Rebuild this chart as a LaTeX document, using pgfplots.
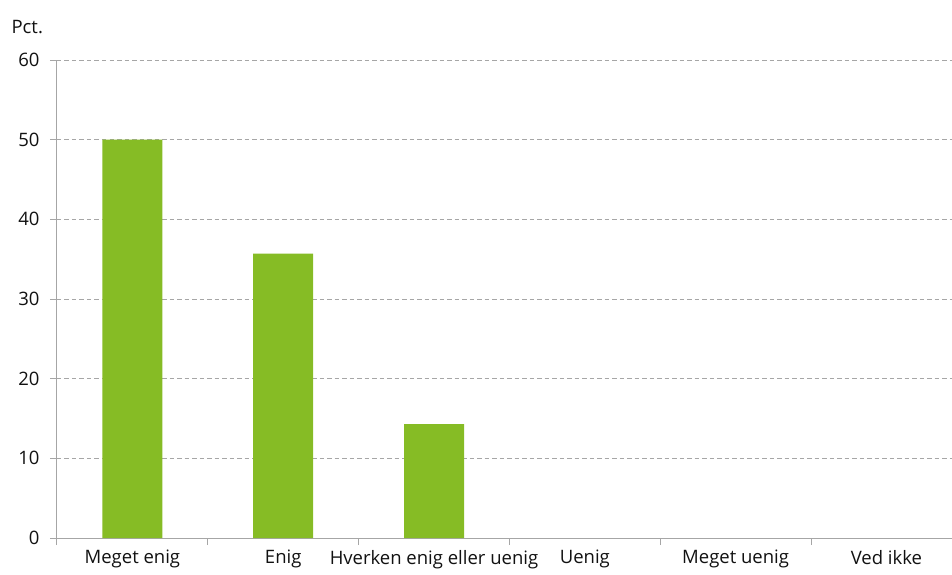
\documentclass[border=0pt]{standalone}
\usepackage{fontspec}
\setmainfont{Open Sans}
\usepackage{pgfplots}
\pgfplotsset{compat=1.18}
\definecolor{bargreen}{HTML}{86BC25}
\definecolor{gridgray}{HTML}{A6A6A6}
\definecolor{txt}{HTML}{111111}
\begin{document}
\begin{tikzpicture}
\useasboundingbox (-57pt,-36pt) rectangle (895pt,538pt);
\clip (-57pt,-36pt) rectangle (895pt,538pt);
\begin{axis}[
  name=ax,
  scale only axis,
  width=895pt, height=478pt,
  at={(0,0)}, anchor=south west,
  xmin=-0.5, xmax=5.435,
  ymin=0, ymax=60,
  ytick={0,10,...,60},
  xtick={0,1,2,3,4,5},
  xticklabels={Meget enig, Enig, Hverken enig eller uenig, Uenig, Meget uenig, Ved ikke},
  minor xtick={-0.5,0.5,1.5,2.5,3.5,4.5},
  axis x line*=bottom, axis y line*=left,
  axis line style={gridgray, line width=1pt, -},
  tick align=outside,
  major tick length=7pt, minor tick length=7pt,
  major x tick style={draw=none},
  minor x tick style={gridgray, line width=1pt},
  major y tick style={gridgray, line width=1pt},
  ymajorgrids,
  major grid style={gridgray, line width=0.9pt, dash pattern=on 4.5pt off 3pt},
  ybar, bar width=60pt,
  /pgf/number format/assume math mode=true,
  tick label style={font=\fontsize{18.5}{22}\selectfont, text=txt},
  yticklabel style={xshift=-7pt},
  xticklabel style={yshift=-4pt, inner sep=1pt},
]
\addplot[fill=bargreen, draw=none] coordinates {(0,50) (1,35.7) (2,14.3)};
\end{axis}
\node[anchor=base west, font=\fontsize{18.5}{22}\selectfont, text=txt] at (ax.north west) [xshift=-49pt, yshift=27pt] {Pct.};
\end{tikzpicture}
\end{document}
